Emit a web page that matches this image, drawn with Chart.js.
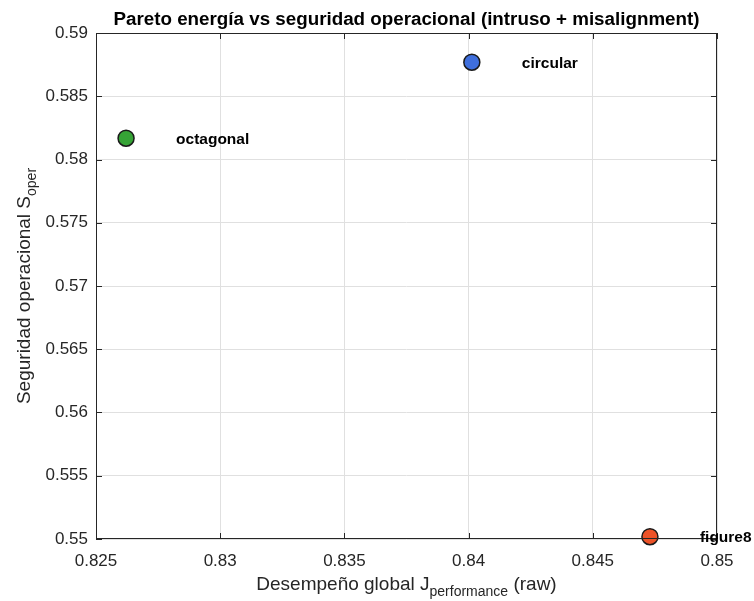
<!DOCTYPE html>
<html>
<head>
<meta charset="utf-8">
<script src="https://cdn.jsdelivr.net/npm/chart.js@4/dist/chart.umd.min.js"></script>
<style>
  html, body { margin: 0; padding: 0; background: #fff; }
  #wrap { width: 754px; height: 601px; }
</style>
</head>
<body>
<div id="wrap"><canvas id="chart" width="754" height="601"></canvas></div>
<script>
// Data
const trajectories = ['octagonal', 'circular', 'figure8'];
const jPerformance = [0.82621, 0.84013, 0.84730];
const sOper = [0.58168, 0.58769, 0.55018];
const pointColors = ['#36a336', '#3f6fdc', '#ec5228'];
const xTicks = [0.825, 0.83, 0.835, 0.84, 0.845, 0.85];
const yTicks = [0.55, 0.555, 0.56, 0.565, 0.57, 0.575, 0.58, 0.585, 0.59];

const FONT = 'Liberation Sans, Arial, Helvetica, sans-serif';
const AXIS_COLOR = '#262626';

// Draw text with a subscript part
function drawSub(ctx, parts, x, y) {
    const base = '19px ' + FONT, sub = '14px ' + FONT;
    let w = 0;
    parts.forEach(p => { ctx.font = p.sub ? sub : base; w += ctx.measureText(p.t).width; });
    let cx = x - w / 2;
    ctx.textAlign = 'left';
    parts.forEach(p => {
        ctx.font = p.sub ? sub : base;
        ctx.fillText(p.t, cx, p.sub ? y + 6 : y);
        cx += ctx.measureText(p.t).width;
    });
}

const decorPlugin = {
    id: 'decor',
    afterDraw(chart) {
        const ctx = chart.ctx;
        const a = chart.chartArea;
        const xs = chart.scales.x, ys = chart.scales.y;
        ctx.save();
        // box
        ctx.strokeStyle = AXIS_COLOR;
        ctx.lineWidth = 1;
        ctx.strokeRect(a.left + 0.5, a.top + 0.5, a.right - a.left - 1, a.bottom - a.top - 1);
        // inward ticks
        ctx.beginPath();
        xTicks.forEach(v => {
            const px = Math.round(xs.getPixelForValue(v)) + 0.5;
            ctx.moveTo(px, a.bottom); ctx.lineTo(px, a.bottom - 6);
            ctx.moveTo(px, a.top); ctx.lineTo(px, a.top + 6);
        });
        yTicks.forEach(v => {
            const py = Math.round(ys.getPixelForValue(v)) + 0.5;
            ctx.moveTo(a.left, py); ctx.lineTo(a.left + 6, py);
            ctx.moveTo(a.right, py); ctx.lineTo(a.right - 6, py);
        });
        ctx.stroke();

        // point labels
        ctx.fillStyle = '#000';
        ctx.font = 'bold 15.5px ' + FONT;
        ctx.textAlign = 'left';
        ctx.textBaseline = 'middle';
        trajectories.forEach((name, i) => {
            const px = xs.getPixelForValue(jPerformance[i]);
            const py = ys.getPixelForValue(sOper[i]);
            ctx.fillText(name, px + 50, py + 1);
        });

        // title
        ctx.font = 'bold 18.8px ' + FONT;
        ctx.textAlign = 'center';
        ctx.textBaseline = 'alphabetic';
        ctx.fillText('Pareto energía vs seguridad operacional (intruso + misalignment)', (a.left + a.right) / 2, 25);

        // axis titles
        ctx.fillStyle = AXIS_COLOR;
        drawSub(ctx, [{ t: 'Desempeño global J' }, { t: 'performance', sub: true }, { t: ' (raw)' }],
            (a.left + a.right) / 2, 590);
        ctx.save();
        ctx.translate(30, (a.top + a.bottom) / 2);
        ctx.rotate(-Math.PI / 2);
        drawSub(ctx, [{ t: 'Seguridad operacional S' }, { t: 'oper', sub: true }], 0, 0);
        ctx.restore();
        ctx.restore();
    }
};

new Chart(document.getElementById('chart'), {
    type: 'scatter',
    data: {
        datasets: [{
            data: jPerformance.map((x, i) => ({ x: x, y: sOper[i] })),
            backgroundColor: pointColors,
            borderColor: '#1a1a1a',
            borderWidth: 1.5,
            pointRadius: 8,
            pointHoverRadius: 8,
            clip: false
        }]
    },
    options: {
        responsive: false,
        animation: false,
        layout: { padding: { top: 33, right: 37, left: 0, bottom: 0 } },
        plugins: { legend: { display: false }, tooltip: { enabled: false } },
        scales: {
            x: {
                type: 'linear',
                min: 0.825, max: 0.85,
                afterBuildTicks: s => { s.ticks = xTicks.map(v => ({ value: v })); },
                afterFit: s => { s.height = 62; },
                grid: { color: '#e0e0e0', drawTicks: false },
                border: { display: false },
                ticks: {
                    color: AXIS_COLOR, padding: 12,
                    font: { family: FONT, size: 17 },
                    callback: v => String(+v.toFixed(3))
                }
            },
            y: {
                type: 'linear',
                min: 0.55, max: 0.59,
                afterBuildTicks: s => { s.ticks = yTicks.map(v => ({ value: v })); },
                afterFit: s => { s.width = 96; },
                grid: { color: '#e0e0e0', drawTicks: false },
                border: { display: false },
                ticks: {
                    color: AXIS_COLOR, padding: 8,
                    font: { family: FONT, size: 17 },
                    callback: v => String(+v.toFixed(3))
                }
            }
        }
    },
    plugins: [decorPlugin]
});
</script>
</body>
</html>
